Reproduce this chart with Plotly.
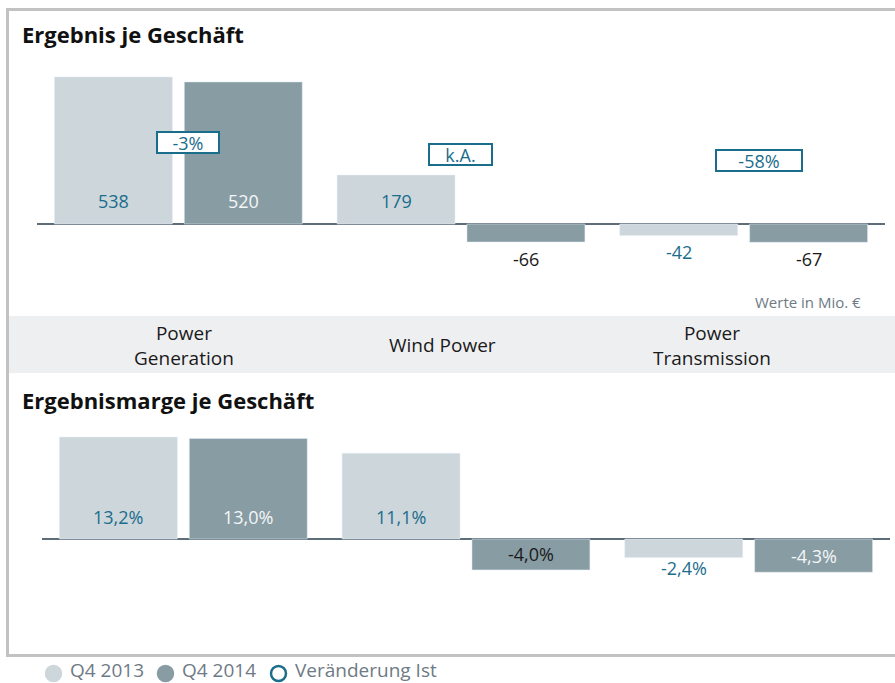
import plotly.graph_objects as go

# data
categories = ["Power Generation", "Wind Power", "Power Transmission"]
cat_labels = ["Power<br>Generation", "Wind Power", "Power<br>Transmission"]

ergebnis_2013 = [538, 179, -42]
ergebnis_2014 = [520, -66, -67]
veraenderung = ["-3%", "k.A.", "-58%"]

marge_2013 = [13.2, 11.1, -2.4]
marge_2014 = [13.0, -4.0, -4.3]

legend_names = ["Q4 2013", "Q4 2014", "Veränderung Ist"]

LIGHT = "#ccd6db"
DARK = "#889ca4"
BLUE = "#1b6d8c"
GREYTXT = "#6e7a85"
W, H = 895, 683
FONT = "Open Sans"


def px_x(p):
    return p / W


def px_y(p):
    return 1 - p / H


def fmt_pct(v):
    return f"{v:.1f}%".replace(".", ",")


fig = go.Figure()

# top panel bars
fig.add_trace(go.Bar(x=categories, y=ergebnis_2013, marker_color=LIGHT, name="Q4 2013",
                     showlegend=False, xaxis="x", yaxis="y", hoverinfo="skip"))
fig.add_trace(go.Bar(x=categories, y=ergebnis_2014, marker_color=DARK, name="Q4 2014",
                     showlegend=False, xaxis="x", yaxis="y", hoverinfo="skip"))
# bottom panel bars
fig.add_trace(go.Bar(x=categories, y=marge_2013, marker_color=LIGHT, name="Q4 2013",
                     showlegend=False, xaxis="x2", yaxis="y2", hoverinfo="skip"))
fig.add_trace(go.Bar(x=categories, y=marge_2014, marker_color=DARK, name="Q4 2014",
                     showlegend=False, xaxis="x2", yaxis="y2", hoverinfo="skip"))

ann = []
LBL = 18
OFF = 65  # half distance between the two bars of a group, px

# value labels, top panel
def top_label(i, v, shift, color):
    if v >= 0:
        y, ys = 0, 23
    else:
        y, ys = v, -17
    ann.append(dict(x=categories[i], y=y, xref="x", yref="y", xshift=shift, yshift=ys,
                    text=str(v), showarrow=False, font=dict(size=LBL, color=color)))

top_colors_13 = [BLUE, BLUE, BLUE]
top_colors_14 = ["#f4f6f7", "#1a1a1a", "#1a1a1a"]
for i in range(3):
    top_label(i, ergebnis_2013[i], -OFF, top_colors_13[i])
    top_label(i, ergebnis_2014[i], OFF, top_colors_14[i])

# value labels, bottom panel
bot_colors_13 = [BLUE, BLUE, BLUE]
bot_colors_14 = ["#f4f6f7", "#1a1a1a", "#f4f6f7"]
for i in range(3):
    v = marge_2013[i]
    if v >= 0:
        y, ys = 0, 22
    else:
        y, ys = v, -10
    ann.append(dict(x=categories[i], y=y, xref="x2", yref="y2", xshift=-OFF, yshift=ys,
                    text=fmt_pct(v), showarrow=False, font=dict(size=LBL, color=bot_colors_13[i])))
    v = marge_2014[i]
    if v >= 0:
        y, ys = 0, 22
    else:
        y, ys = v / 2, 0
    ann.append(dict(x=categories[i], y=y, xref="x2", yref="y2", xshift=OFF, yshift=ys,
                    text=fmt_pct(v), showarrow=False, font=dict(size=LBL, color=bot_colors_14[i])))

# change boxes
box_pos = [(10, 298, 58), (-1, 254, 59), (15, 232, 82)]
for i, (xs, yv, bw) in enumerate(box_pos):
    ann.append(dict(x=categories[i], y=yv, xref="x", yref="y", xshift=xs,
                    text=veraenderung[i], showarrow=False, width=bw, height=17,
                    bgcolor="white", bordercolor=BLUE, borderwidth=2, borderpad=1,
                    font=dict(size=LBL, color=BLUE)))

# titles and notes
ann.append(dict(x=px_x(20), y=px_y(34), xref="paper", yref="paper", xanchor="left",
                yanchor="middle", text="<b>Ergebnis je Geschäft</b>", showarrow=False,
                font=dict(size=22, color="#111111")))
ann.append(dict(x=px_x(20), y=px_y(400), xref="paper", yref="paper", xanchor="left",
                yanchor="middle", text="<b>Ergebnismarge je Geschäft</b>", showarrow=False,
                font=dict(size=22, color="#111111")))
ann.append(dict(x=px_x(863), y=px_y(302), xref="paper", yref="paper", xanchor="right",
                yanchor="middle", text="Werte in Mio. €", showarrow=False,
                font=dict(size=15, color=GREYTXT)))

# category band labels
for lbl, xc in zip(cat_labels, [184, 442, 712]):
    ann.append(dict(x=px_x(xc), y=px_y(345), xref="paper", yref="paper",
                    xanchor="center", yanchor="middle",
                    text=lbl, showarrow=False, font=dict(size=19, color="#1a1a1a")))

shapes = [
    dict(type="rect", xref="paper", yref="paper", x0=px_x(9), x1=px_x(900),
         y0=px_y(373), y1=px_y(316), fillcolor="#eeeff1", line=dict(width=0), layer="below"),
    dict(type="rect", xref="paper", yref="paper", x0=px_x(7.5), x1=px_x(905),
         y0=px_y(655.5), y1=px_y(9.5), line=dict(color="#c2c2c2", width=3)),
]

# legend drawn by hand below the frame
leg_x = [45, 157, 270]
leg_fill = [LIGHT, DARK, "white"]
leg_line = [LIGHT, DARK, BLUE]
for name, x0, fc, lc in zip(legend_names, leg_x, leg_fill, leg_line):
    shapes.append(dict(type="circle", xref="paper", yref="paper",
                       x0=px_x(x0 + 1), x1=px_x(x0 + 16), y0=px_y(681), y1=px_y(666),
                       fillcolor=fc, line=dict(color=lc, width=2.5)))
    ann.append(dict(x=px_x(x0 + 23), y=px_y(670), xref="paper", yref="paper",
                    xanchor="left", yanchor="middle", text=name, showarrow=False,
                    font=dict(size=19, color=GREYTXT)))

fig.update_layout(
    width=W, height=H,
    margin=dict(l=0, r=0, t=0, b=0),
    paper_bgcolor="white", plot_bgcolor="rgba(0,0,0,0)",
    font=dict(family=FONT),
    showlegend=False,
    barmode="group", bargap=0.081, bargroupgap=0.092,
    xaxis=dict(domain=[px_x(37), px_x(885)], anchor="y", showticklabels=False,
               showgrid=False, zeroline=False, range=[-0.5, 2.5]),
    yaxis=dict(domain=[px_y(300), px_y(60)], anchor="x", range=[-278.2, 600.2],
               showticklabels=False, showgrid=False, zeroline=True,
               zerolinecolor="#5e6d7a", zerolinewidth=2),
    xaxis2=dict(domain=[px_x(42), px_x(890)], anchor="y2", showticklabels=False,
                showgrid=False, zeroline=False, range=[-0.5, 2.5]),
    yaxis2=dict(domain=[px_y(640), px_y(420)], anchor="x2", range=[-13.07, 15.40],
                showticklabels=False, showgrid=False, zeroline=True,
                zerolinecolor="#5e6d7a", zerolinewidth=2),
    annotations=ann,
    shapes=shapes,
)

# page has a default body margin; remove it so the chart fills the window
fig.write_html("out.html", config={"displayModeBar": False},
               post_script="document.body.style.margin='0';")
